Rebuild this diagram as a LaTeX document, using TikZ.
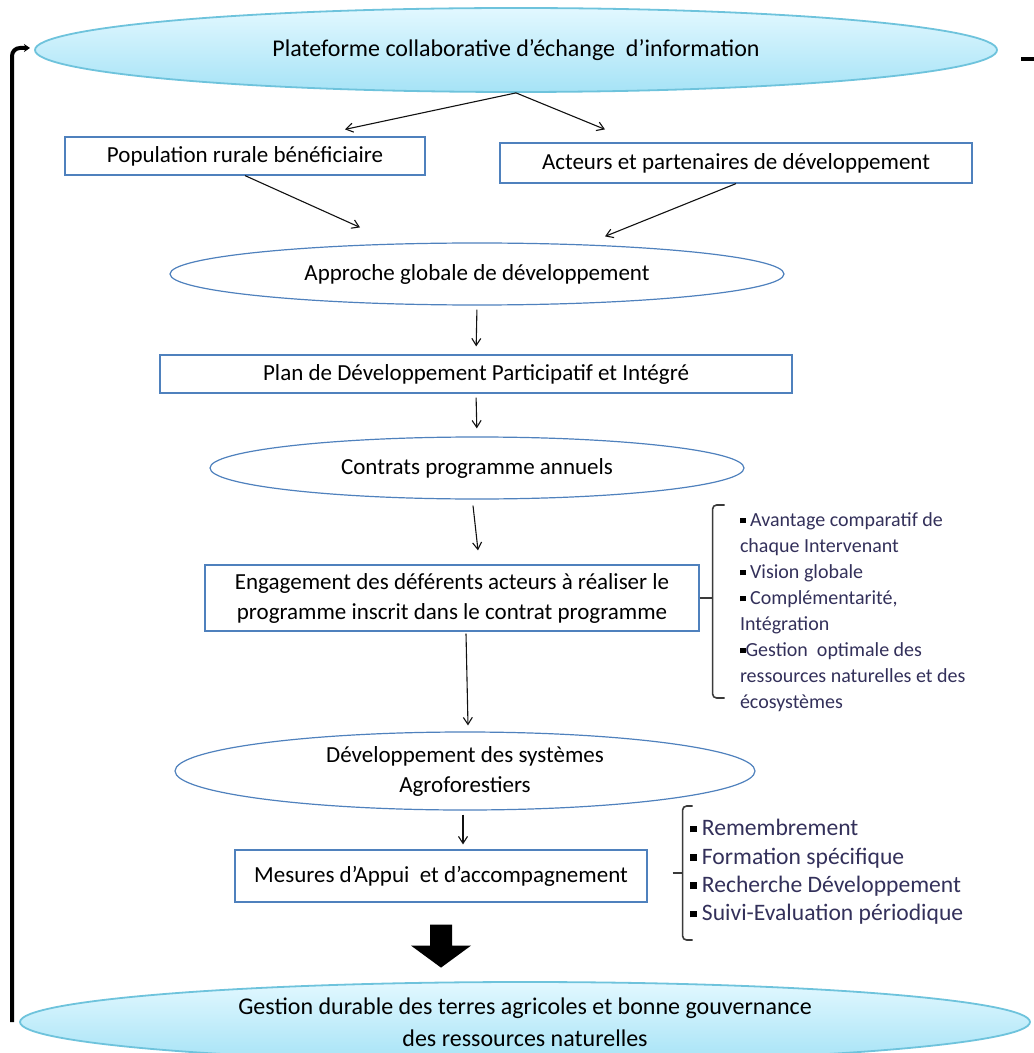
\documentclass[tikz,border=0pt]{standalone}
\usepackage{fontspec}
\setmainfont{Carlito}
\usetikzlibrary{arrows.meta,positioning,calc,shapes.geometric}
\definecolor{ink}{HTML}{111111}
\definecolor{boxblue}{HTML}{4F81BD}
\definecolor{skyline}{HTML}{6EC3DC}
\definecolor{skytop}{HTML}{E2F8FF}
\definecolor{skybot}{HTML}{A6E3F6}
\definecolor{listink}{HTML}{33305A}
\definecolor{bracegray}{HTML}{3A3A3A}
\newcommand{\sqbul}{\textcolor{black}{\rule[0.15em]{0.28em}{0.28em}}}

\begin{document}
\begin{tikzpicture}[x=0.5pt,y=-0.5pt]
  \tikzset{
    box/.style={draw=boxblue,line width=0.6pt,fill=white,inner sep=0pt,align=center,font=\fontsize{11.5}{15}\selectfont},
    oval/.style={ellipse,draw=boxblue,line width=0.6pt,fill=white,inner sep=0pt,align=center,font=\fontsize{11.5}{15}\selectfont},
    skyoval/.style={ellipse,draw=skyline,line width=0.9pt,top color=skytop,bottom color=skybot,inner sep=0pt,align=center,font=\fontsize{12}{16}\selectfont},
    arrow/.style={-{Straight Barb[length=3.5pt,width=4.5pt]},draw=ink,line width=0.55pt},
    vgap/.style={arrow,shorten <=2pt,shorten >=4pt},
    brace/.style={draw=bracegray,line width=0.8pt,rounded corners=2pt},
    bullets/.style={align=left,inner sep=0pt,text=listink,anchor=north west},
    feedback/.style={draw=black,line width=2pt,rounded corners=4pt,-{Stealth[length=3pt,width=4pt]}}
  }
  \useasboundingbox (0,0) rectangle (1033,1053);

  % main chain
  \node[skyoval,minimum width=481pt,minimum height=42pt] (plat) at (516,50) {Plateforme collaborative d’échange\ \ d’information};
  \node[box,minimum width=180pt,minimum height=19pt] (pop) at (245,156) {Population rurale bénéficiaire};
  \node[box,minimum width=236pt,minimum height=20pt] (act) at (736,163) {Acteurs et partenaires\ de développement};
  \node[oval,minimum width=307pt,minimum height=31pt] (appr) at (477,274) {Approche globale de développement};
  \node[box,minimum width=316pt,minimum height=19pt] (plan) at (476,374) {Plan de\ Développement Participatif et Intégré};
  \node[oval,minimum width=267pt,minimum height=31pt] (contr) at (477,468) {Contrats programme annuels};
  \node[box,minimum width=247pt,minimum height=33pt] (eng) at (452,598) {Engagement des déférents acteurs à réaliser le\\programme inscrit dans le contrat programme};
  \node[oval,minimum width=290pt,minimum height=39pt] (agro) at (465,771) {Développement des systèmes\\Agroforestiers};
  \node[box,minimum width=206pt,minimum height=26pt] (mes) at (441,876) {Mesures d’Appui\ \ et d’accompagnement};
  \node[skyoval,minimum width=505pt,minimum height=40pt] (gest) at (525,1022) {Gestion durable des terres agricoles\ et bonne\ gouvernance\\des ressources naturelles};

  % connectors
  \draw[arrow] (plat.south) -- ($(pop.north)+(100,-7)$);
  \draw[arrow] (plat.south) -- ($(act.north)+(-131,-13)$);
  \draw[arrow] (pop.south) -- ($(appr.north)+(-117,-15)$);
  \draw[arrow] (act.south) -- ($(appr.north)+(128,-6)$);
  \draw[vgap] (appr.south) -- (plan.north);
  \draw[vgap] (plan.south) -- (contr.north);
  \draw[arrow] ($(contr.south)+(-4,6)$) -- ($(eng.north)+(26,-14)$);
  \draw[arrow] ($(eng.south)+(14,2)$) -- ($(agro.north)+(3,-6)$);
  \draw[arrow] ($(agro.south)+(-2,4)$) -- ($(mes.north)+(22,-5)$);

  % block arrow
  \coordinate (fat) at ($(mes.south)+(0,22)$);
  \fill[black] (fat) ++(-11,0) -- ++(22,0) -- ++(0,21) -- ++(19,0) -- ++(-30,22) -- ++(-30,-22) -- ++(19,0) -- cycle;

  % side lists
  \draw[brace] (eng.east) -- ++(13,0);
  \draw[brace] ($(eng.east)+(25,-93)$) -- ++(-12,0) -- ++(0,193) -- ++(12,0);
  \node[bullets,font=\fontsize{10}{13}\selectfont] (gain) at ($(eng.east)+(40,-86)$)
    {\sqbul\ Avantage comparatif de\\chaque Intervenant\\\sqbul\ Vision globale\\\sqbul\ Complémentarité,\\Intégration\\\sqbul Gestion\ \ optimale des\\ressources naturelles et des\\écosystèmes};

  \coordinate (mesbr) at ($(mes.east)+(25,-3)$);
  \draw[brace] (mesbr) -- ++(10,0);
  \draw[brace] ($(mesbr)+(20,-67)$) -- ++(-10,0) -- ++(0,134) -- ++(10,0);
  \node[bullets,font=\fontsize{11.8}{14.2}\selectfont] (appui) at ($(mesbr)+(17,-54)$)
    {\sqbul\ Remembrement\\\sqbul\ Formation spécifique\\\sqbul\ Recherche Développement\\\sqbul\ Suivi-Evaluation périodique};

  % feedback loop
  \coordinate (loopend) at (12,1022);
  \coordinate (looptip) at (30,48);
  \draw[feedback] (loopend) |- (looptip);
  \coordinate (dashA) at (1021,59);
  \draw[line width=2pt] (dashA) -- ++(14,0);
\end{tikzpicture}
\end{document}
